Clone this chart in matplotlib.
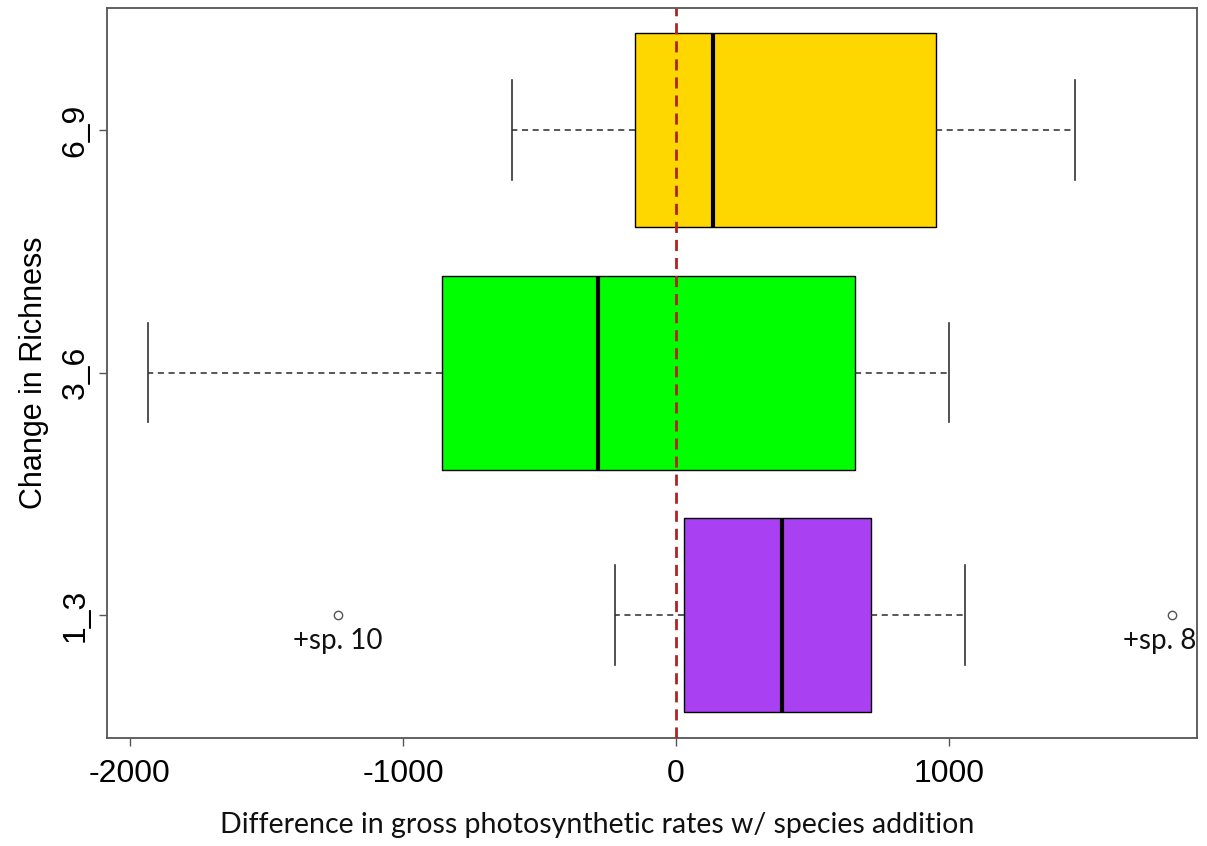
import matplotlib
matplotlib.use("Agg")
import matplotlib.pyplot as plt

# Data
groups = ["1_3", "3_6", "6_9"]
whislo = [-223, -1934, -600]
q1 = [29, -857, -150]
med = [388, -286, 135]
q3 = [714, 656, 952]
whishi = [1059, 1000, 1461]
fliers = [[-1238, 1817], [], []]
colors = ["#A940F2", "#00FF00", "#FFD700"]
outlier_labels = ["+sp. 10", "+sp. 8"]
outlier_label_x = [-1238, 1773]
xticks = [-2000, -1000, 0, 1000]

fig = plt.figure(figsize=(12.07, 8.46), dpi=100)
ax = fig.add_axes([107/1207, 1-738/846, (1197-107)/1207, (738-8)/846])

stats = []
for i, g in enumerate(groups):
    stats.append(dict(label=g, whislo=whislo[i], q1=q1[i], med=med[i],
                      q3=q3[i], whishi=whishi[i], fliers=fliers[i]))

positions = [1, 2, 3]
bp = ax.bxp(stats, positions=positions, widths=0.8, vert=False,
            patch_artist=True, capwidths=0.41,
            boxprops=dict(edgecolor="black", linewidth=1.0),
            medianprops=dict(color="black", linewidth=3.0),
            whiskerprops=dict(color="#2a2a2a", linewidth=1.1, linestyle=(0, (4, 3))),
            capprops=dict(color="#333333", linewidth=1.2),
            flierprops=dict(marker="o", markersize=6, markerfacecolor="white",
                            markeredgecolor="#555555", markeredgewidth=1.0))
for patch, c in zip(bp["boxes"], colors):
    patch.set_facecolor(c)
    patch.set_zorder(2)

ax.axvline(0, color="#B22222", linewidth=2.0, linestyle=(0, (4, 2.5)), zorder=5)

for txt, xv in zip(outlier_labels, outlier_label_x):
    ax.text(xv, 0.893, txt, ha="center", va="center", fontsize=20,
            family=["Lato", "DejaVu Sans"], color="#111111")

ax.set_xlim(-2084, 1908)
ax.set_ylim(0.493, 3.503)
ax.set_xticks(xticks)
ax.set_xticklabels([str(t) for t in xticks], fontsize=23, family="Liberation Sans")
ax.set_yticks(positions)
ax.set_yticklabels(groups, fontsize=23, family="Liberation Sans", rotation=90, va="center")
ax.tick_params(axis="x", length=6, width=1, color="#555555", pad=9)
ax.tick_params(axis="y", length=6, width=1, color="#555555", pad=6)
for s in ax.spines.values():
    s.set_color("#555555")
    s.set_linewidth(1.3)

ax.set_ylabel("Change in Richness", fontsize=22, family="Liberation Sans", labelpad=8)
fig.text(0.495, 1-825/846, "Difference in gross photosynthetic rates w/ species addition",
         ha="center", va="center", fontsize=20.5, family=["Lato", "DejaVu Sans"], color="#111111")

fig.savefig("out.png", dpi=100)
